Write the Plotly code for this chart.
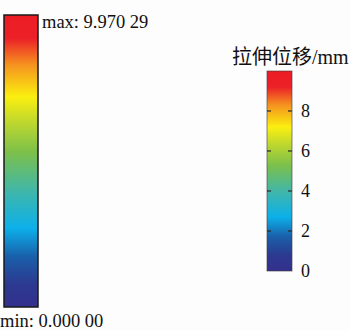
import plotly.graph_objects as go

# Displacement range of the result field (mm)
min_value = 0.0
max_value = 9.97029
tick_values = [0, 2, 4, 6, 8]
tick_labels = ["0", "2", "4", "6", "8"]

# Rainbow legend colour stops (fraction of range, colour)
stop_positions = [0.00, 0.08, 0.17, 0.27, 0.39, 0.53, 0.64, 0.72, 0.83, 0.92, 1.00]
stop_colors = ["#33308c", "#2c3a90", "#1a5ea9", "#0cb0ea", "#3db6ae", "#7cc04a",
               "#c3d92c", "#fbef0f", "#f5921f", "#ec2028", "#ec1c24"]
colorscale = [[p, c] for p, c in zip(stop_positions, stop_colors)]

W, H = 350, 331
SERIF = "Liberation Serif, Times New Roman, serif"
NBSP = "\u00a0"

def px_x(v):
    return v / W

def px_y(v):
    return 1 - v / H

def fmt5(v):
    s = f"{v:.5f}"
    return s[:-2] + " " + s[-2:]

fig = go.Figure()

# Left: full-height legend of the contour plot, labelled with max/min
fig.add_trace(go.Scatter(
    x=[None], y=[None], mode="markers", showlegend=False, hoverinfo="skip",
    marker=dict(
        color=[min_value], cmin=min_value, cmax=max_value, colorscale=colorscale,
        showscale=True,
        colorbar=dict(
            x=px_x(4), xanchor="left", xpad=0,
            y=px_y(15), yanchor="top", ypad=0,
            thickness=34, thicknessmode="pixels",
            len=292, lenmode="pixels",
            outlinewidth=1.5, outlinecolor="#1a1a1a",
            showticklabels=False, ticks="",
        ),
    ),
))

# Right: legend with a value axis
fig.add_trace(go.Scatter(
    x=[None], y=[None], mode="markers", showlegend=False, hoverinfo="skip",
    marker=dict(
        color=[min_value], cmin=min_value, cmax=max_value, colorscale=colorscale,
        showscale=True,
        colorbar=dict(
            x=px_x(267), xanchor="left", xpad=0,
            y=px_y(71), yanchor="top", ypad=0,
            thickness=25, thicknessmode="pixels",
            len=200, lenmode="pixels",
            outlinewidth=1, outlinecolor="rgba(60,60,60,0.6)",
            tickmode="array", tickvals=tick_values,
            ticktext=[NBSP + t for t in tick_labels],
            ticks="inside", ticklen=4, tickwidth=1.5, tickcolor="rgba(40,40,40,0.6)",
            tickfont=dict(family=SERIF, size=18, color="#111"),
        ),
    ),
))

# Matching tick marks on the left edge of the right legend
fig.add_trace(go.Scatter(
    x=[None], y=[None], mode="markers", showlegend=False, hoverinfo="skip",
    marker=dict(
        color=[min_value], cmin=min_value, cmax=max_value,
        colorscale=[[0, "rgba(0,0,0,0)"], [1, "rgba(0,0,0,0)"]],
        showscale=True,
        colorbar=dict(
            x=px_x(267), xanchor="left", xpad=0,
            y=px_y(71), yanchor="top", ypad=0,
            thickness=4, thicknessmode="pixels",
            len=200, lenmode="pixels",
            outlinewidth=0,
            tickmode="array", tickvals=tick_values,
            ticks="inside", ticklen=4, tickwidth=1.5, tickcolor="rgba(40,40,40,0.6)",
            showticklabels=False,
        ),
    ),
))

fig.add_annotation(
    x=px_x(40), y=px_y(22), xref="paper", yref="paper",
    xanchor="left", yanchor="middle", showarrow=False,
    text=f"max: {fmt5(max_value)}",
    font=dict(family=SERIF, size=18.5, color="#111"),
)
fig.add_annotation(
    x=px_x(-2), y=px_y(321), xref="paper", yref="paper",
    xanchor="left", yanchor="middle", showarrow=False,
    text=f"min: {fmt5(min_value)}",
    font=dict(family=SERIF, size=18.5, color="#111"),
)
fig.add_annotation(
    x=px_x(290), y=px_y(57), xref="paper", yref="paper",
    xanchor="center", yanchor="middle", showarrow=False,
    text="拉伸位移/mm",
    font=dict(family="Liberation Serif, Noto Sans CJK SC, serif", size=20, color="#111"),
)

fig.update_xaxes(visible=False)
fig.update_yaxes(visible=False)
fig.update_layout(
    width=W, height=H,
    margin=dict(l=0, r=0, t=0, b=0),
    paper_bgcolor="#fdfdfd", plot_bgcolor="#fdfdfd",
    showlegend=False,
)

fig.write_html("out.html")
